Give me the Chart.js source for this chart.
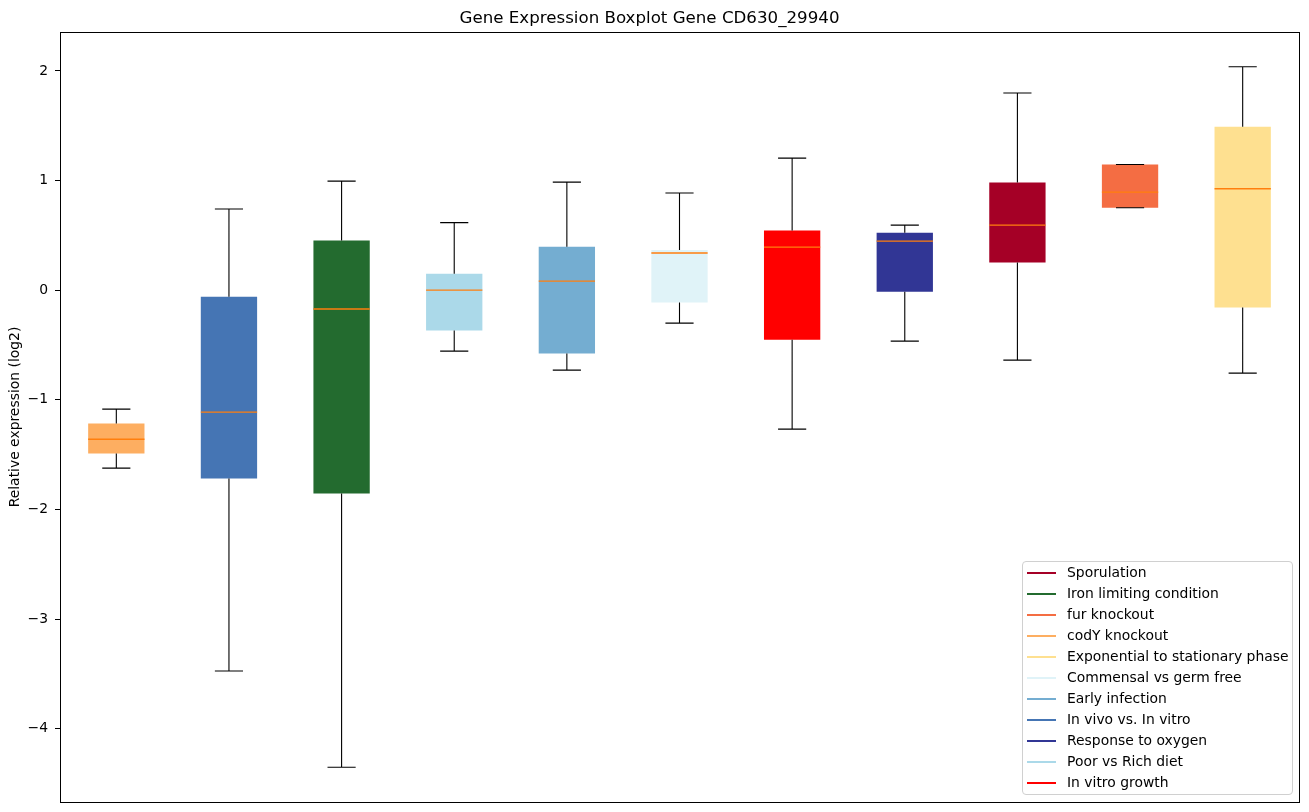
<!DOCTYPE html>
<html>
<head>
<meta charset="utf-8">
<script src="https://cdn.jsdelivr.net/npm/chart.js@4.4.1/dist/chart.umd.min.js"></script>
<style>
  html, body { margin: 0; padding: 0; background: #fff; }
  #wrap { position: relative; width: 1309px; height: 812px; }
  #c { position: absolute; left: 0; top: 0; }
  #legend {
    position: absolute; left: 1022px; top: 561px; width: 271px; height: 234px;
    box-sizing: border-box; border: 1px solid #d0d0d0; border-radius: 4px;
    background: rgba(255,255,255,0.8);
    font-family: "DejaVu Sans", sans-serif; font-size: 13.9px; color: #000;
  }
  .row { position: relative; height: 21px; line-height: 21px; white-space: nowrap; }
  .row .sw { position: absolute; left: 4px; top: 9.5px; width: 29px; height: 2px; }
  .row .tx { position: absolute; left: 44px; top: 0; }
</style>
</head>
<body>
<div id="wrap">
  <canvas id="c" width="1309" height="812" style="width:1309px;height:812px"></canvas>
  <div id="legend"></div>
</div>
<script>
const categories = ['codY knockout','In vivo vs. In vitro','Iron limiting condition','Poor vs Rich diet','Early infection','Commensal vs germ free','In vitro growth','Response to oxygen','Sporulation','fur knockout','Exponential to stationary phase'];
const boxColors = ['#fdae61','#4575b4','#236b2f','#abd9e9','#74add1','#e0f3f8','#ff0000','#313695','#a50026','#f46d43','#fee090'];
const whiskerLow  = [-1.623,-3.473,-4.351,-0.556,-0.729,-0.300,-1.267,-0.464,-0.638,0.752,-0.756];
const q1          = [-1.490,-1.718,-1.855,-0.368,-0.578,-0.112,-0.453,-0.015,0.253,0.752,-0.158];
const median      = [-1.359,-1.112,-0.172,0.001,0.083,0.339,0.393,0.448,0.594,0.895,0.925];
const q3          = [-1.216,-0.060,0.453,0.149,0.396,0.366,0.545,0.524,0.983,1.147,1.491];
const whiskerHigh = [-1.085,0.740,0.995,0.616,0.986,0.886,1.205,0.594,1.798,1.147,2.038];
const yTickValues = [-4,-3,-2,-1,0,1,2];
const legendOrder = ['Sporulation','Iron limiting condition','fur knockout','codY knockout','Exponential to stationary phase','Commensal vs germ free','Early infection','In vivo vs. In vitro','Response to oxygen','Poor vs Rich diet','In vitro growth'];

const positions = categories.map((_, i) => i + 1);
const BOX_HALF = 0.25, CAP_HALF = 0.125;

const boxData = positions.map((p, i) => ({x: p, y: [q1[i], q3[i]]}));
const whiskerData = [];
positions.forEach((p, i) => {
  whiskerData.push({x: p, y: q3[i]}, {x: p, y: whiskerHigh[i]}, {x: p, y: null});
  whiskerData.push({x: p, y: q1[i]}, {x: p, y: whiskerLow[i]}, {x: p, y: null});
  whiskerData.push({x: p - CAP_HALF, y: whiskerHigh[i]}, {x: p + CAP_HALF, y: whiskerHigh[i]}, {x: p, y: null});
  whiskerData.push({x: p - CAP_HALF, y: whiskerLow[i]}, {x: p + CAP_HALF, y: whiskerLow[i]}, {x: p, y: null});
});
const medianData = [];
positions.forEach((p, i) => {
  medianData.push({x: p - BOX_HALF, y: median[i]}, {x: p + BOX_HALF, y: median[i]}, {x: p, y: null});
});

Chart.defaults.font.family = '"DejaVu Sans", sans-serif';
Chart.defaults.font.size = 13.9;
Chart.defaults.color = '#000';

const framePlugin = {
  id: 'frame',
  afterDraw(chart) {
    const {ctx, chartArea: a} = chart;
    ctx.save();
    ctx.strokeStyle = '#000';
    ctx.lineWidth = 1;
    ctx.strokeRect(Math.round(a.left) + 0.5, Math.round(a.top) + 0.5,
                   Math.round(a.right - a.left), Math.round(a.bottom - a.top));
    ctx.restore();
  }
};

new Chart(document.getElementById('c'), {
  type: 'bar',
  data: {
    datasets: [
      { type: 'line', data: medianData, borderColor: '#ff7f0e', borderWidth: 1.4, pointRadius: 0, spanGaps: false, order: 1 },
      { type: 'line', data: whiskerData, borderColor: '#000', borderWidth: 1.1, pointRadius: 0, spanGaps: false, order: 2 },
      { type: 'bar', data: boxData, backgroundColor: boxColors, borderWidth: 0, categoryPercentage: 1, barPercentage: 0.5, grouped: false, order: 3 }
    ]
  },
  options: {
    responsive: false,
    devicePixelRatio: 1,
    animation: false,
    events: [],
    layout: { padding: { left: 0, right: 10, top: 0, bottom: 10 } },
    plugins: {
      legend: { display: false },
      tooltip: { enabled: false },
      title: {
        display: true,
        text: 'Gene Expression Boxplot Gene CD630_29940',
        font: { size: 16.67, weight: 'normal' },
        color: '#000',
        padding: { top: 9, bottom: 3 }
      }
    },
    scales: {
      x: {
        type: 'linear', min: 0.5, max: 11.5, offset: false, display: false
      },
      y: {
        type: 'linear', min: -4.668, max: 2.355,
        afterFit(scale) { scale.width = 60; scale.paddingTop = 0; scale.paddingBottom = 0; },
        afterBuildTicks(scale) { scale.ticks = yTickValues.map(v => ({value: v})); },
        ticks: {
          padding: 7,
          color: '#000',
          font: { size: 13.9 },
          callback: v => (v < 0 ? '\u2212' + Math.abs(v) : String(v))
        },
        grid: { drawOnChartArea: false, drawTicks: true, tickLength: 5, color: '#000' },
        border: { display: false },
        title: {
          display: true, text: 'Relative expression (log2)', color: '#000',
          font: { size: 13.9 }, padding: { top: 7, bottom: 0 }
        }
      }
    }
  },
  plugins: [framePlugin]
});

const legend = document.getElementById('legend');
legendOrder.forEach(name => {
  const color = boxColors[categories.indexOf(name)];
  const row = document.createElement('div');
  row.className = 'row';
  const sw = document.createElement('span');
  sw.className = 'sw';
  sw.style.background = color;
  const tx = document.createElement('span');
  tx.className = 'tx';
  tx.textContent = name;
  row.appendChild(sw);
  row.appendChild(tx);
  legend.appendChild(row);
});
</script>
</body>
</html>
